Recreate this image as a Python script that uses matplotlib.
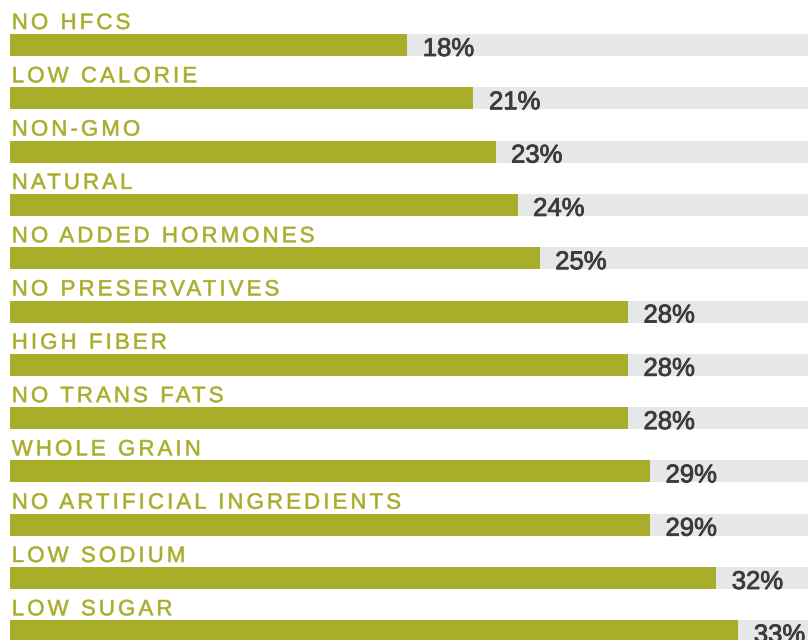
import numpy as np
import matplotlib.pyplot as plt
import matplotlib.patheffects as pe
from matplotlib.path import Path
from matplotlib.transforms import IdentityTransform

# datos
categorias = ["NO HFCS", "LOW CALORIE", "NON-GMO", "NATURAL", "NO ADDED HORMONES",
              "NO PRESERVATIVES", "HIGH FIBER", "NO TRANS FATS", "WHOLE GRAIN",
              "NO ARTIFICIAL INGREDIENTS", "LOW SODIUM", "LOW SUGAR"]
# largo de barra tal como aparece dibujado, y etiqueta impresa
largos = [18, 21, 22, 23, 24, 28, 28, 28, 29, 29, 32, 33]
etiquetas = ["18%", "21%", "23%", "24%", "25%", "28%", "28%", "28%", "29%",
             "29%", "32%", "33%"]
fondo = 40  # barra gris de fondo (se corta en el borde)

verde = "#a8ad2a"
gris = "#e6e7e8"
texto = "#3b3b3d"

px_x = 22.07   # pixeles por punto porcentual
px_y = 53.3    # pixeles entre barras
alto = 22 / px_y


# -----------------------------------------
# Espaciado entre letras (tracking) via path effect
# -----------------------------------------
class Tracking(pe.AbstractPathEffect):
    def __init__(self, track=3.1, gap_space=5.5, lw=0.4):
        super().__init__()
        self.track = track
        self.gap_space = gap_space
        self.lw = lw

    def draw_path(self, renderer, gc, tpath, affine, rgbFace=None):
        path = affine.transform_path(tpath)
        verts = np.array(path.vertices, dtype=float)
        codes = path.codes
        starts = list(np.where(codes == Path.MOVETO)[0]) + [len(codes)]
        contornos = []
        for a, b in zip(starts[:-1], starts[1:]):
            ok = (codes[a:b] != Path.CLOSEPOLY) & (codes[a:b] != Path.STOP)
            xs = verts[a:b][ok, 0]
            contornos.append((xs.min(), xs.max(), a, b))
        contornos.sort()
        # agrupar contornos en glifos (los huecos interiores quedan dentro)
        grupos = []
        for c in contornos:
            if grupos and c[1] <= grupos[-1][1] + 0.5:
                grupos[-1][2].append(c)
            else:
                grupos.append([c[0], c[1], [c]])
        desplaz = 0.0
        prev_max = None
        for gmin, gmax, cs in grupos:
            if prev_max is not None:
                desplaz += self.track
                if gmin - prev_max > self.gap_space:
                    desplaz += self.track
            for _, _, a, b in cs:
                verts[a:b, 0] += desplaz
            prev_max = gmax
        nuevo = Path(verts, codes)
        gc0 = renderer.new_gc()
        gc0.copy_properties(gc)
        gc0.set_linewidth(self.lw)
        gc0.set_foreground(rgbFace, isRGBA=True)
        renderer.draw_path(gc0, nuevo, IdentityTransform(), rgbFace)
        gc0.restore()


fig = plt.figure(figsize=(8.08, 6.40), dpi=100)
ax = fig.add_axes([0, 0, 1, 1])
ax.set_xlim(-10 / px_x, 798 / px_x)
ax.set_ylim((640 - 45) / px_y, -45 / px_y)
ax.axis("off")

pos = list(range(len(categorias)))
ax.barh(pos, [fondo] * len(pos), height=alto, color=gris, left=0)
ax.barh(pos, largos, height=alto, color=verde, left=0)

grueso_val = [pe.withStroke(linewidth=0.6, foreground=texto)]

for i, (cat, v, et) in enumerate(zip(categorias, largos, etiquetas)):
    ax.text(0.08, i - alto / 2 - 5 / px_y, cat, color=verde, fontsize=16,
            family="Liberation Sans", va="baseline", ha="left",
            path_effects=[Tracking()])
    ax.text(v + 15.5 / px_x, i + alto / 2, et, color=texto,
            fontsize=18.5, family="Liberation Sans",
            va="baseline", ha="left", path_effects=grueso_val)

fig.savefig("out.png", dpi=100)
